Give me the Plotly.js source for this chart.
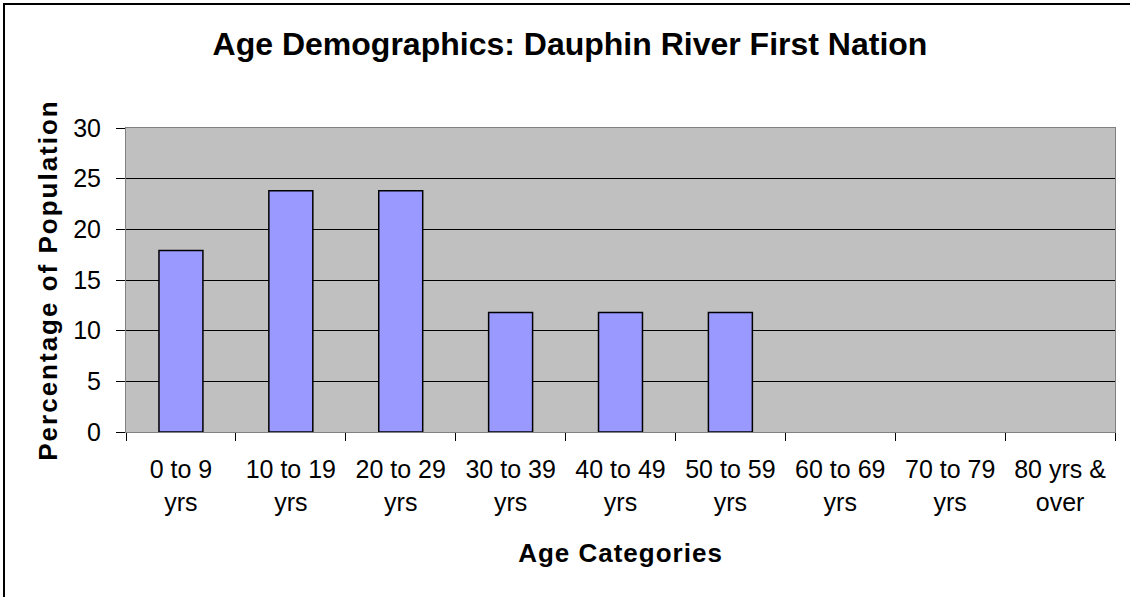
<!DOCTYPE html>
<html>
<head>
<meta charset="utf-8">
<script src="https://cdn.plot.ly/plotly-3.0.1.min.js"></script>
<style>
  body { margin: 0; background: #fff; }
  #graf { width: 1130px; height: 597px; position: absolute; left: 0; top: 0; }
  #marco { position: absolute; left: 3px; top: 3px; width: 1200px; height: 700px;
           border: 2px solid #000; pointer-events: none; }
  .g-ytitle text { letter-spacing: 2px; }
  .g-xtitle text { letter-spacing: 1px; }
</style>
</head>
<body>
<div id="graf"></div>
<div id="marco"></div>
<script>
// categorias de edad y porcentajes
var categorias = ["0 to 9<br>yrs", "10 to 19<br>yrs", "20 to 29<br>yrs", "30 to 39<br>yrs",
    "40 to 49<br>yrs", "50 to 59<br>yrs", "60 to 69<br>yrs", "70 to 79<br>yrs", "80 yrs &<br>over"];
var porcentajes = [17.9, 23.8, 23.8, 11.8, 11.8, 11.8, 0, 0, 0];
var marcasY = [0, 5, 10, 15, 20, 25, 30];

function graficos(){
    let espacio = document.getElementById("graf");
    let fuente = "Liberation Sans, Arial, sans-serif";

    var trace1 = {
        x: categorias,
        y: porcentajes,
        type: 'bar',
        marker: {
            color: '#9999FF',
            // las barras en cero no se dibujan en el original
            line: {color: '#000000', width: porcentajes.map(v => v > 0 ? 1.5 : 0)}
        },
        hoverinfo: 'skip'
    };

    var data = [trace1];

    var layout = {
        width: 1130,
        height: 597,
        margin: {l: 126, r: 15, t: 128, b: 165},
        paper_bgcolor: '#FFFFFF',
        plot_bgcolor: '#C0C0C0',
        bargap: 0.6,
        showlegend: false,
        font: {family: fuente, color: '#000000', size: 25},
        title: {
            text: '<b>Age Demographics: Dauphin River First Nation</b>',
            font: {family: fuente, size: 32, color: '#000000'},
            x: 0.5 + 5/1130, xref: 'container',
            y: 1 - 44/597, yref: 'container', yanchor: 'middle'
        },
        xaxis: {
            type: 'category',
            tickson: 'boundaries',
            ticks: 'outside', ticklen: 8, tickcolor: '#000000', tickwidth: 1,
            ticklabelstandoff: 15,
            showline: true, linecolor: '#808080', linewidth: 1, mirror: true,
            showgrid: false,
            tickfont: {family: fuente, size: 25},
            title: {text: '<b>Age Categories</b>', font: {family: fuente, size: 26}, standoff: 29}
        },
        yaxis: {
            range: [0, 30],
            tickvals: marcasY,
            ticks: 'outside', ticklen: 9, tickcolor: '#000000', tickwidth: 1,
            ticklabelstandoff: 10,
            showline: true, linecolor: '#808080', linewidth: 1, mirror: true,
            showgrid: true, gridcolor: '#000000', gridwidth: 1,
            zeroline: false,
            tickfont: {family: fuente, size: 25},
            title: {text: '<b>Percentage of Population</b>', font: {family: fuente, size: 26}, standoff: 8}
        }
    };

    Plotly.newPlot(espacio, data, layout, {staticPlot: true});
}
graficos();
</script>
</body>
</html>
